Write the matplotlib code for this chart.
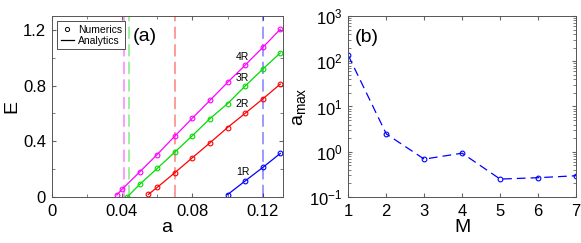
import matplotlib.pyplot as plt
from matplotlib.ticker import MultipleLocator, LogLocator, FixedLocator

plt.rcParams["font.family"] = ["Liberation Sans", "DejaVu Sans"]
plt.rcParams["mathtext.fontset"] = "custom"
plt.rcParams["mathtext.rm"] = "Liberation Sans"
plt.rcParams["mathtext.it"] = "Liberation Sans:italic"

# panel (a): numerics for each resonance
a_4r = [0.037, 0.04, 0.05, 0.06, 0.07, 0.08, 0.09, 0.10, 0.11, 0.12, 0.13]
e_4r = [0.014, 0.055, 0.179, 0.305, 0.437, 0.566, 0.694, 0.823, 0.947, 1.074, 1.205]
a_3r = [0.043, 0.05, 0.06, 0.07, 0.08, 0.09, 0.10, 0.11, 0.12, 0.13]
e_3r = [0.0, 0.09, 0.205, 0.322, 0.44, 0.563, 0.67, 0.797, 0.918, 1.035]
a_2r = [0.055, 0.06, 0.07, 0.08, 0.09, 0.10, 0.11, 0.12, 0.13]
e_2r = [0.019, 0.069, 0.174, 0.282, 0.389, 0.499, 0.601, 0.704, 0.811]
a_1r = [0.10, 0.11, 0.12, 0.13]
e_1r = [0.017, 0.115, 0.212, 0.313]
vlines_a = [0.0412, 0.044, 0.07, 0.12]
vline_colors = ["#ff00ff", "#00dd00", "#ff0000", "#0000ff"]

# panel (b)
m_vals = [1, 2, 3, 4, 5, 6, 7]
a_max = [134, 2.48, 0.687, 0.93, 0.249, 0.267, 0.295]

fig = plt.figure(figsize=(5.81, 2.43), dpi=100)
ax1 = fig.add_axes([51.6 / 581, 46 / 243, 231 / 581, 181 / 243])
ax2 = fig.add_axes([348.3 / 581, 46 / 243, 227.7 / 581, 181 / 243])

series = [
    (a_4r, e_4r, "#ff00ff", "4R", (0.1085, 1.004)),
    (a_3r, e_3r, "#00dd00", "3R", (0.1085, 0.854)),
    (a_2r, e_2r, "#ff0000", "2R", (0.1085, 0.666)),
    (a_1r, e_1r, "#0000ff", "1R", (0.1085, 0.177)),
]
for x, c in zip(vlines_a, vline_colors):
    ax1.axvline(x, color=c, ls=(0, (8, 3.5)), lw=1.1, alpha=0.5)
for a, e, c, lab, pos in series:
    ax1.plot(a, e, color=c, lw=0.9)
    ax1.plot(a, e, "o", mfc="none", mec=c, ms=3.4, mew=0.8)
    ax1.text(pos[0], pos[1], lab, fontsize=7.5, ha="center", va="center")

# legend proxies
ax1.plot([], [], "o", mfc="none", mec="k", ms=3, mew=0.7, label="Numerics")
ax1.plot([], [], "-", color="k", lw=0.9, label="Analytics")
leg = ax1.legend(loc="upper left", fontsize=7.5, handlelength=1.3, handletextpad=0.4,
                 borderpad=0.3, labelspacing=0.1, fancybox=False, framealpha=1,
                 borderaxespad=0, bbox_to_anchor=(0.025, 0.97))
leg.get_frame().set_edgecolor("#333333")
leg.get_frame().set_linewidth(0.6)
ax1.text(0.0462, 1.15, "(a)", fontsize=14, va="center")

ax1.set_xlim(0, 0.1313)
ax1.set_ylim(0, 1.3)
ax1.xaxis.set_major_locator(FixedLocator([0, 0.04, 0.08, 0.12]))
ax1.xaxis.set_minor_locator(MultipleLocator(0.02))
ax1.yaxis.set_major_locator(FixedLocator([0, 0.4, 0.8, 1.2]))
ax1.yaxis.set_minor_locator(MultipleLocator(0.2))
ax1.set_xticklabels(["0", "0.04", "0.08", "0.12"])
ax1.set_yticklabels(["0", "0.4", "0.8", "1.2"])
ax1.set_xlabel("a", fontsize=14, labelpad=0)
ax1.set_ylabel("E", fontsize=14, labelpad=2)

ax2.semilogy(m_vals, a_max, color="#0000ff", ls=(0, (7, 4)), lw=0.9,
             marker="o", mfc="none", mec="#0000ff", ms=3.4, mew=0.8)
ax2.set_xlim(1, 7)
ax2.set_ylim(0.1, 1000)
ax2.xaxis.set_major_locator(MultipleLocator(1))
ax2.yaxis.set_major_locator(LogLocator(base=10, numticks=10))
ax2.yaxis.set_minor_locator(LogLocator(base=10, subs=range(2, 10), numticks=10))
ax2.text(1.18, 340, "(b)", fontsize=14, va="center")
ax2.set_xlabel("M", fontsize=14, labelpad=0)
ax2.set_ylabel(r"a$_{\mathrm{max}}$", fontsize=14, labelpad=1)

for ax in (ax1, ax2):
    ax.tick_params(which="both", direction="in", top=True, right=True, labelsize=12,
                   color="#666666")
    ax.tick_params(axis="x", which="both", pad=5)
    ax.tick_params(axis="y", which="both", pad=4)
    ax.tick_params(which="major", length=3)
    ax.tick_params(which="minor", length=2)
    for s in ax.spines.values():
        s.set_color("#555555")
        s.set_linewidth(0.7)

fig.savefig("out.png", dpi=100)
